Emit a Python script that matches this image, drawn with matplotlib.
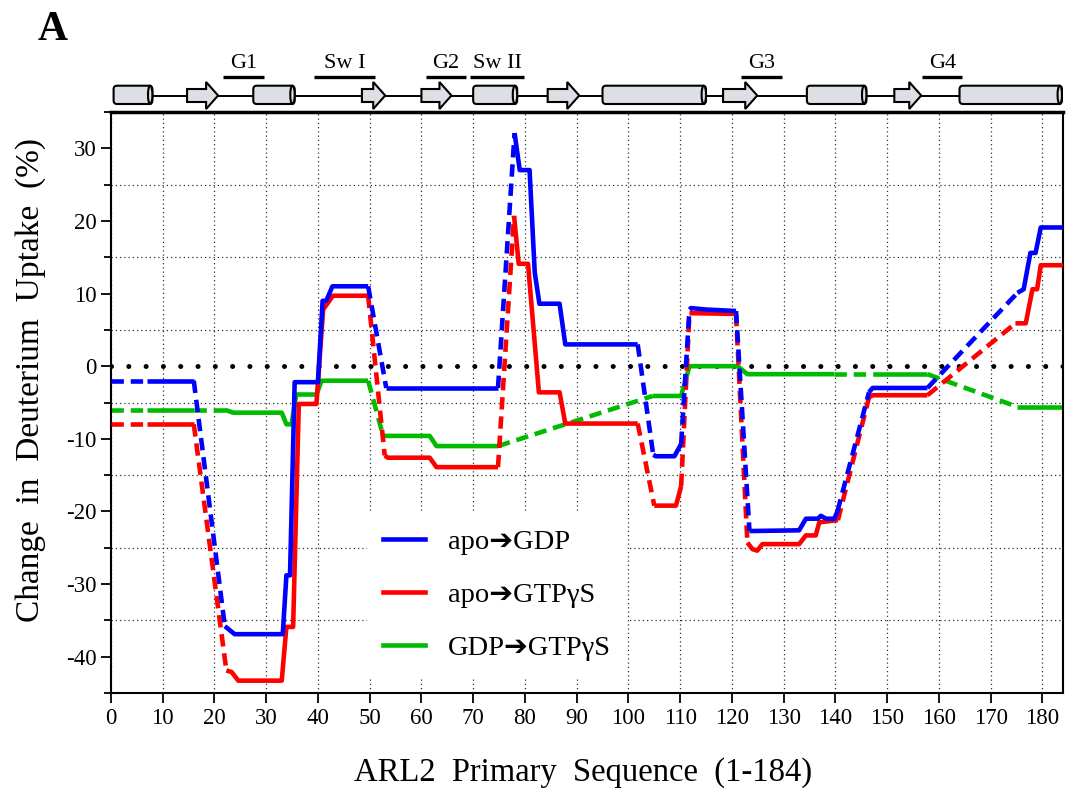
import matplotlib
matplotlib.use('Agg')
import matplotlib.pyplot as plt
from matplotlib.patches import FancyBboxPatch, Ellipse, Polygon
from matplotlib.lines import Line2D

plt.rcParams['font.family'] = ['Liberation Serif', 'DejaVu Sans']
plt.rcParams['axes.unicode_minus'] = False

# ---------------- data ----------------
# apo -> GDP (blue); segment flags: s = measured (solid), d = interpolated (dashed)
apo_gdp_x = [0, 7, 16, 22, 23.9, 33.2, 33.9, 34.6, 35.5, 40, 40.9, 41.6, 42.8, 49.7,
             53.2, 74.8, 78, 79, 80.9, 81.9, 82.8, 86.7, 87.8, 101.8, 104.8, 105.3,
             108.9, 110.2, 111.8, 112.1, 115, 120.8, 123.4, 133, 134.3, 136.6, 137.2,
             138.2, 139.8, 140.4, 146.5, 147.2, 157.8, 175.2, 176.4, 177.7, 178.7,
             179.7, 184]
apo_gdp_y = [-2, -2, -2, -35.8, -36.9, -36.9, -28.8, -28.8, -2.2, -2.2, 9.0, 9.0, 11.0,
             11.0, -3.0, -3.0, 32.1, 27, 27, 12.9, 8.6, 8.6, 3.0, 3.0, -12.2, -12.4,
             -12.4, -10.7, 7.8, 8.0, 7.8, 7.6, -22.7, -22.6, -21.0, -21.0, -20.6, -21.0,
             -21.0, -20.0, -3.6, -3.0, -3.0, 10.1, 10.6, 15.6, 15.6, 19.1, 19.1]
apo_gdp_seg = "dsd" + "s" * 10 + "dsd" + "s" * 7 + "d" + "sss" + "d" + "sss" + "d" + \
              "s" * 7 + "d" + "ss" + "d" + "s" * 5

# apo -> GTPgS (red)
apo_gtp_x = [0, 7, 16, 22.3, 23.3, 24.6, 33.0, 33.9, 35.2, 36.3, 39.7, 41.0, 42.9, 49.7,
             52.9, 53.5, 61.6, 62.9, 74.8, 77.9, 78.8, 80.6, 82.7, 86.7, 87.8, 101.8,
             105, 109.2, 110.2, 111.8, 120.8, 123, 124, 124.9, 125.9, 133, 134.3, 136.2,
             136.9, 140.5, 146.5, 147.2, 157.8, 174.8, 176.8, 178.1, 179, 179.7, 184]
apo_gtp_y = [-8, -8, -8, -41.9, -42.1, -43.3, -43.3, -35.9, -35.9, -5.2, -5.2, 7.8, 9.7,
             9.7, -12.3, -12.6, -12.6, -13.9, -13.9, 20.7, 14.1, 14.1, -3.6, -3.6, -7.9,
             -7.9, -19.2, -19.2, -16.5, 7.3, 7.2, -24.3, -25.2, -25.4, -24.5, -24.5,
             -23.3, -23.3, -21.5, -21.2, -4.3, -4.0, -4.0, 5.9, 5.9, 10.6, 10.6, 13.9, 13.9]
apo_gtp_seg = "dsd" + "s" * 10 + "d" + "s" * 4 + "d" + "s" * 6 + "d" + "ss" + "d" + "s" + \
              "d" + "s" * 8 + "d" + "ss" + "d" + "s" * 5

# GDP -> GTPgS (green)
gdp_gtp_x = [0, 7, 16, 22, 23.6, 33.0, 33.9, 34.9, 35.8, 39.7, 40.7, 49.7, 52.6, 61.6,
             62.9, 74.8, 104.7, 110.2, 111.8, 121.1, 123, 139.8, 147.2, 157.8, 175.2, 184]
gdp_gtp_y = [-6, -6, -6, -6.0, -6.4, -6.4, -8.0, -8.0, -3.9, -3.9, -2.0, -2.0, -9.6, -9.6,
             -11.0, -11.0, -4.1, -4.1, 0, 0, -1.1, -1.1, -1.1, -1.1, -5.6, -5.6]
gdp_gtp_seg = "dsd" + "s" * 8 + "d" + "sss" + "d" + "s" * 5 + "dsds"

series_labels = ["apo\u2794GDP", "apo\u2794GTP\u03b3S", "GDP\u2794GTP\u03b3S"]
series_colors = ["#0000ff", "#ff0000", "#00bb00"]

# secondary structure (residue ranges)
helix_start = [0.5, 27.5, 70, 95, 134.5, 164]
helix_end = [8, 35.5, 78.5, 115, 146, 183.8]
strand_start = [14.7, 48.5, 60, 84.4, 118.3, 151.4]
strand_end = [20.7, 53, 65.8, 90.5, 124.9, 156.6]
motif_labels = ["G1", "Sw I", "G2", "Sw II", "G3", "G4"]
motif_start = [21.6, 39.2, 60.8, 69.3, 121.8, 156.8]
motif_end = [29.5, 51, 68.7, 79.9, 129.7, 164.5]

x_ticks = list(range(0, 181, 10))
y_ticks = list(range(-40, 31, 10))

# ---------------- figure ----------------
W, H = 1067, 793
fig = plt.figure(figsize=(W / 100, H / 100), dpi=100)
ax = fig.add_axes([111 / W, (H - 693) / H, 952 / W, 581 / H])
axs = fig.add_axes([111 / W, (H - 112) / H, 952 / W, 62 / H])

ax.set_xlim(0, 184)
ax.set_ylim(-45, 35)
ax.set_xticks(x_ticks)
ax.set_yticks(y_ticks)
ax.set_yticks(list(range(-45, 36, 5)), minor=True)
ax.tick_params(axis='both', which='major', direction='out', length=7, width=1.3,
               labelsize=16.5, color='black')
ax.tick_params(axis='y', which='minor', direction='out', length=5, width=1.3)
ax.set_axisbelow(True)
grid_style = dict(linestyle=(0, (1, 2.4)), color='#333333', linewidth=0.9)
ax.grid(True, which='major', axis='x', **grid_style)
ax.grid(True, which='minor', axis='y', **grid_style)
for side in ['left', 'bottom', 'right']:
    ax.spines[side].set_linewidth(1.5)
ax.spines['top'].set_linewidth(2.5)

ax.axhline(0, color='black', lw=3.6, linestyle=(0, (0.01, 3.45)),
           dash_capstyle='round', zorder=1.5)


def draw_series(x, y, seg, color, z):
    i = 0
    n = min(len(seg), len(x) - 1)
    while i < n:
        j = i
        while j < n and seg[j] == seg[i]:
            j += 1
        xs = x[i:j + 1]
        ys = y[i:j + 1]
        if seg[i] == 's':
            ax.plot(xs, ys, color=color, lw=3.3, solid_joinstyle='round',
                    solid_capstyle='butt', zorder=z)
        else:
            ax.plot(xs, ys, color=color, lw=3.3, linestyle=(0, (2.7, 1.5)),
                    dash_capstyle='butt', zorder=z)
        i = j


draw_series(gdp_gtp_x, gdp_gtp_y, gdp_gtp_seg, series_colors[2], 2)
draw_series(apo_gtp_x, apo_gtp_y, apo_gtp_seg, series_colors[1], 3)
draw_series(apo_gdp_x, apo_gdp_y, apo_gdp_seg, series_colors[0], 4)

handles = [Line2D([], [], color=c, lw=3.3) for c in series_colors]
leg = ax.legend(handles, series_labels, loc='upper left',
                bbox_to_anchor=((367 - 111) / 952, (693 - 513) / 581),
                borderaxespad=0, borderpad=0.55, fontsize=20.5, handlelength=1.5,
                handletextpad=0.8, labelspacing=0.96, frameon=True, fancybox=False,
                framealpha=1, facecolor='white', edgecolor='none')
leg.set_zorder(6)

ax.set_xlabel("ARL2  Primary  Sequence  (1-184)", fontsize=23.5)
ax.xaxis.label.set_va('center')
ax.xaxis.set_label_coords((583 - 111) / 952, -(773 - 693) / 581)
ax.set_ylabel("Change  in  Deuterium  Uptake  (%)", fontsize=24)
ax.yaxis.label.set_va('center')
ax.yaxis.set_label_coords(-(111 - 31) / 952, (693 - 380) / 581)

# ---------------- secondary structure panel ----------------
u = 184 / 952  # residue units per pixel
axs.set_xlim(0, 184)
axs.set_ylim(0, 62 * u)
axs.axis('off')
ss_fill = '#dcdfe3'
axs.plot([0.5, 183.8], [16.3 * u, 16.3 * u], color='black', lw=1.4, zorder=1)
cy0, ch = 8 * u, 18.3 * u
for s, e in zip(helix_start, helix_end):
    axs.add_patch(FancyBboxPatch((s, cy0), e - s, ch,
                                 boxstyle='round,pad=0,rounding_size=%f' % (3.5 * u),
                                 facecolor=ss_fill, edgecolor='black', lw=1.5, zorder=2))
    axs.add_patch(Ellipse((e - 2.2 * u, cy0 + ch / 2), 4.4 * u, ch,
                          facecolor=ss_fill, edgecolor='black', lw=1.5, zorder=3))
sy0, sy1 = 10 * u, 23 * u
hy0, hy1 = 3 * u, 30 * u
hl = 12 * u
for s, e in zip(strand_start, strand_end):
    ym = (hy0 + hy1) / 2
    pts = [(s, sy0), (e - hl, sy0), (e - hl, hy0), (e, ym), (e - hl, hy1),
           (e - hl, sy1), (s, sy1)]
    axs.add_patch(Polygon(pts, closed=True, facecolor=ss_fill, edgecolor='black',
                          lw=1.5, zorder=2, joinstyle='miter'))
for lab, s, e in zip(motif_labels, motif_start, motif_end):
    axs.plot([s, e], [35 * u, 35 * u], color='black', lw=2.4, solid_capstyle='butt')
    axs.text((s + e) / 2, 38.5 * u, lab, ha='center', va='bottom', fontsize=16)

fig.text(53 / W, 1 - 30 / H, "A", fontsize=30, fontweight='bold', ha='center',
         va='center')

fig.savefig('out.png', dpi=100)
